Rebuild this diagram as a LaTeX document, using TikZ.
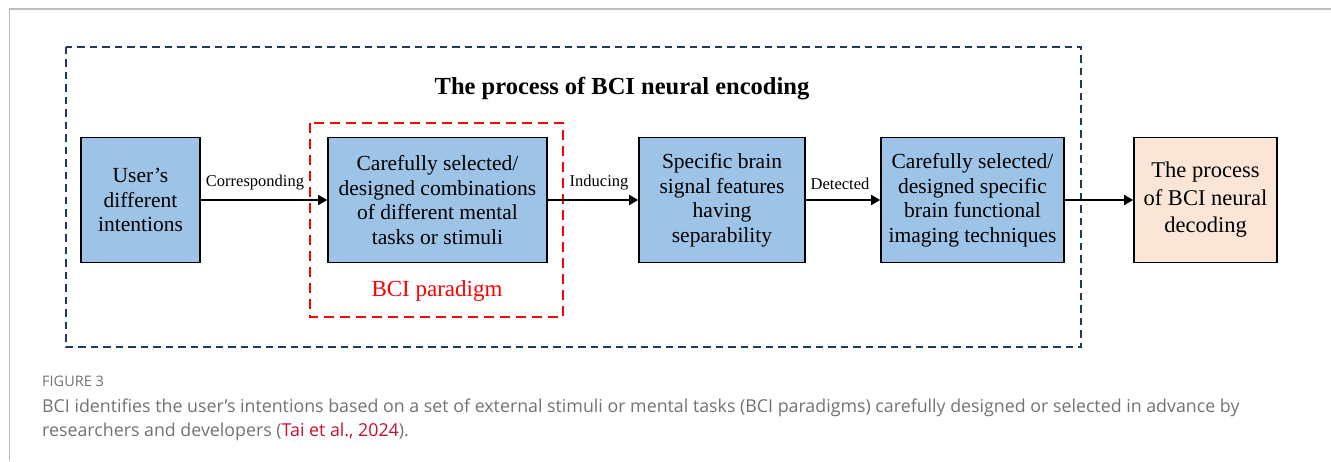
\documentclass[tikz,border=0pt]{standalone}
\usepackage{fontspec}
\setmainfont{Liberation Serif}
\newfontfamily\capfont{Open Sans}
\usetikzlibrary{arrows.meta}

\definecolor{boxblue}{HTML}{9DC3E6}
\definecolor{boxpeach}{HTML}{FBE5D6}
\definecolor{navy}{HTML}{1F3864}
\definecolor{framegray}{HTML}{BDBDBD}
\definecolor{captiongray}{HTML}{727272}
\definecolor{citered}{HTML}{C8102E}

\tikzset{
  boxtext/.style={font=\fontsize{21.5pt}{24.5pt}\selectfont, align=center},
  stagebox/.style={draw=black, line width=1.6pt, fill=boxblue, boxtext,
    minimum height=125pt, inner sep=0pt},
  outcomebox/.style={draw=black, line width=1.6pt, fill=boxpeach,
    font=\fontsize{22.5pt}{27.5pt}\selectfont, align=center,
    minimum height=125pt, inner sep=0pt},
  flow/.style={line width=1.6pt, -{Triangle[length=9pt,width=10pt]}},
  flowlabel/.style={font=\fontsize{16.5pt}{19pt}\selectfont},
  encodingframe/.style={draw=navy, line width=2pt, dash pattern=on 7.5pt off 5pt},
  paradigmframe/.style={draw=red, line width=2pt, dash pattern=on 10pt off 6pt},
  captiontext/.style={anchor=west, inner sep=0pt, text=captiongray,
    font=\capfont\fontsize{17.8pt}{21pt}\selectfont}
}

\begin{document}
\begin{tikzpicture}[x=1pt, y=-1pt]
  \useasboundingbox (0,0) rectangle (1331,461);

  % page frame
  \draw[framegray, line width=1.5pt] (9.5,461) -- (9.5,9) -- (1331,9);

  % encoding stage frame and title
  \draw[encodingframe] (66,46.5) rectangle (1081,347);
  \node[font=\bfseries\fontsize{24.5pt}{27pt}\selectfont] (title) at (622,89)
    {The process of BCI neural encoding};

  % paradigm frame
  \draw[paradigmframe] (310,123) rectangle (563,317);
  \node[text=red, font=\fontsize{23pt}{26pt}\selectfont] (paradigm) at (437,291) {BCI paradigm};

  % stages
  \node[stagebox, minimum width=119pt] (intent) at (140.5,200)
    {User’s\\different\\intentions};
  \node[stagebox, minimum width=219pt] (tasks) at (437.5,200)
    {Carefully selected/\\designed combinations\\of different mental\\tasks or stimuli};
  \node[stagebox, minimum width=166pt] (features) at (722,200)
    {Specific brain\\signal features\\having\\separability};
  \node[stagebox, minimum width=183pt] (imaging) at (972.5,200)
    {Carefully selected/\\designed specific\\brain functional\\imaging techniques};
  \node[outcomebox, minimum width=143pt] (decoding) at (1205.5,200)
    {The process\\of BCI neural\\decoding};

  % connectors
  \draw[flow] (intent.east) -- (tasks.west);
  \draw[flow] (tasks.east) -- (features.west);
  \draw[flow] (features.east) -- (imaging.west);
  \draw[flow] (imaging.east) -- (decoding.west);

  \node[flowlabel] (lcorr) at (255,183) {Corresponding};
  \node[flowlabel] (lind) at (599,183) {Inducing};
  \node[flowlabel] (ldet) at (840,184) {Detected};

  % caption
  \node[captiontext, font=\capfont\fontsize{14.5pt}{18pt}\selectfont] (fig) at (42,381) {FIGURE 3};
  \node[captiontext] (cap1) at (42,408)
    {BCI identifies the user’s intentions based on a set of external stimuli or mental tasks (BCI paradigms) carefully designed or selected in advance by};
  \node[captiontext] (cap2) at (42,432)
    {researchers and developers (\textcolor{citered}{Tai et al., 2024}).};
\end{tikzpicture}
\end{document}
